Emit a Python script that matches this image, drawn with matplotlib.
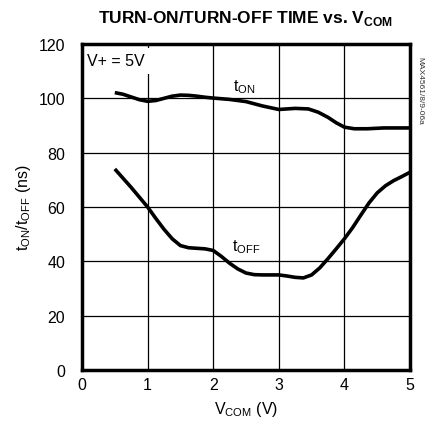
import matplotlib
matplotlib.use("Agg")
from matplotlib import pyplot as plt

plt.rcParams['font.family'] = ['Liberation Sans', 'DejaVu Sans']
plt.rcParams['mathtext.fontset'] = 'custom'
plt.rcParams['mathtext.rm'] = 'Liberation Sans'

# readings
vcom_on = [0.5, 0.625, 0.75, 0.875, 1.0, 1.125, 1.25, 1.375, 1.5, 1.625, 1.75, 1.875, 2.0,
           2.25, 2.5, 2.75, 3.0, 3.25, 3.45, 3.6, 3.75, 3.875, 4.0, 4.15, 4.35, 4.6, 5.0]
t_on = [102.1, 101.5, 100.5, 99.5, 98.9, 99.2, 100.0, 100.8, 101.2, 101.1, 100.8, 100.4, 100.1,
        99.6, 98.8, 97.2, 95.9, 96.3, 96.1, 94.9, 93.0, 91.0, 89.4, 88.8, 88.8, 89.1, 89.1]

vcom_off = [0.5, 0.75, 1.0, 1.125, 1.25, 1.375, 1.5, 1.625, 1.75, 1.875, 2.0, 2.125, 2.25,
            2.375, 2.5, 2.625, 2.75, 3.0, 3.125, 3.25, 3.375, 3.5, 3.625, 3.75, 3.875, 4.0,
            4.125, 4.25, 4.375, 4.5, 4.625, 4.75, 4.875, 5.0]
t_off = [74, 67.2, 60, 55.8, 51.8, 48.3, 45.8, 45.0, 44.8, 44.6, 44.0, 41.8, 39.3,
         37.2, 35.7, 35.1, 35.0, 35.0, 34.6, 34.1, 33.9, 35.0, 37.6, 41.0, 44.6, 48.3,
         52.4, 57.0, 61.5, 65.2, 67.8, 69.7, 71.2, 72.8]

x_ticks = [0, 1, 2, 3, 4, 5]
y_ticks = [0, 20, 40, 60, 80, 100, 120]

fig = plt.figure(figsize=(4.30, 4.31), dpi=100)
ax = fig.add_axes([0.1907, 0.1392, 0.7628, 0.7564])

for xs, ys in [(vcom_on, t_on), (vcom_off, t_off)]:
    ax.plot(xs, ys, color='black', linewidth=2.6,
            solid_capstyle='butt', solid_joinstyle='round')

ax.set_xlim(0, 5)
ax.set_ylim(0, 120)
ax.set_xticks(x_ticks)
ax.set_yticks(y_ticks)
ax.grid(True, color='black', linewidth=0.9)
for s in ax.spines.values():
    s.set_linewidth(2.5)
ax.tick_params(length=0, labelsize=11.5)
ax.tick_params(axis='x', pad=5)
ax.tick_params(axis='y', pad=12)

ax.set_xlabel(r'V$_{\mathregular{COM}}$ (V)', fontsize=11.5, labelpad=5)
ax.set_ylabel(r't$_{\mathregular{ON}}$/t$_{\mathregular{OFF}}$ (ns)', fontsize=11.5, labelpad=4)

# white box hides the top of the grid behind the label, spines stay on top
ax.text(0.08, 113.8, 'V+ = 5V', fontsize=11.5, va='center', ha='left', zorder=2.2,
        bbox=dict(facecolor='white', edgecolor='none', pad=4))
ax.text(2.3, 104.5, r't$_{\mathregular{ON}}$', fontsize=11.5, ha='left', va='center')
ax.text(2.28, 45.5, r't$_{\mathregular{OFF}}$', fontsize=11.5, ha='left', va='center')

fig.text(0.572, 0.957, r'TURN-ON/TURN-OFF TIME vs. V$_{\mathregular{COM}}$',
         fontsize=12.5, fontweight='bold', ha='center', va='center')
fig.text(0.977, 0.79, 'MAX4561/8/9-06a', fontsize=6, rotation=270,
         ha='center', va='center', color='#333333')

fig.savefig('out.png', dpi=100)
